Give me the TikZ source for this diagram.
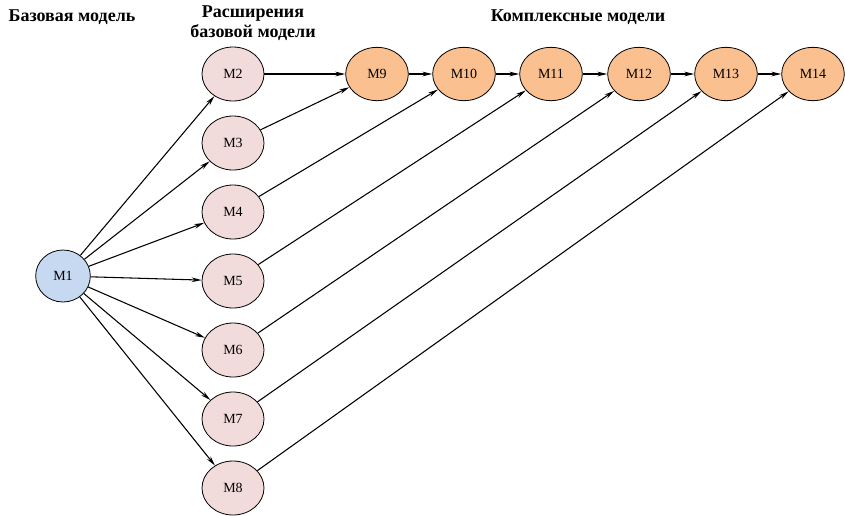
\documentclass[tikz,border=0pt]{standalone}
\usepackage{fontspec}
\setmainfont{Liberation Serif}
\usetikzlibrary{shapes.geometric,arrows.meta}
\definecolor{basefill}{RGB}{198,217,240}
\definecolor{extfill}{RGB}{242,220,219}
\definecolor{cplxfill}{RGB}{250,192,143}

\begin{document}
\begin{tikzpicture}[x=0.75pt,y=-0.75pt,
	base/.style={ellipse, draw, line width=0.6pt, inner sep=0pt, minimum width=41pt, minimum height=39pt, fill=basefill, font=\fontsize{10.5}{12}\selectfont},
	ext/.style={base, fill=extfill, minimum width=46.5pt, minimum height=40.5pt},
	cplx/.style={base, fill=cplxfill, minimum width=47pt, minimum height=40pt},
	head/.style={font=\fontsize{13.5}{15}\selectfont\bfseries, align=center},
	link/.style={-{Stealth[length=7.5pt,width=3.5pt]}, line width=0.8pt}]
	\useasboundingbox (0,0) rectangle (845,515);

	\node (h1)	at	(72,17) 	[head]{Базовая модель};
	\node (h2)	at	(253,23) 	[head]{Расширения\\базовой модели};
	\node (h3)	at	(578,17) 	[head]{Комплексные модели};

	\node (m1)	at	(63,276) 	[base]{M1};

	\node (m2)	at	(233,74) 	[ext]{M2};
	\node (m3)	at	(233,143) 	[ext]{M3};
	\node (m4)	at	(233,212) 	[ext]{M4};
	\node (m5)	at	(233,281) 	[ext]{M5};
	\node (m6)	at	(233,350) 	[ext]{M6};
	\node (m7)	at	(233,419) 	[ext]{M7};
	\node (m8)	at	(233,488) 	[ext]{M8};

	\node (m9)	at	(377,74) 	[cplx]{M9};
	\node (m10)	at	(464,74) 	[cplx]{M10};
	\node (m11)	at	(551,74) 	[cplx]{M11};
	\node (m12)	at	(639,74) 	[cplx]{M12};
	\node (m13)	at	(726,74) 	[cplx]{M13};
	\node (m14)	at	(813,74) 	[cplx]{M14};

	\foreach \i in {2,...,8}
		\draw[link] (m1) -- (m\i);

	\draw[link] (m2) -- (m9);
	\draw[link] (m3) -- (m9);
	\draw[link] (m4) -- (m10);
	\draw[link] (m5) -- (m11);
	\draw[link] (m6) -- (m12);
	\draw[link] (m7) -- (m13);
	\draw[link] (m8) -- (m14);

	\draw[link] (m9) -- (m10);
	\draw[link] (m10) -- (m11);
	\draw[link] (m11) -- (m12);
	\draw[link] (m12) -- (m13);
	\draw[link] (m13) -- (m14);

\end{tikzpicture}
\end{document}
